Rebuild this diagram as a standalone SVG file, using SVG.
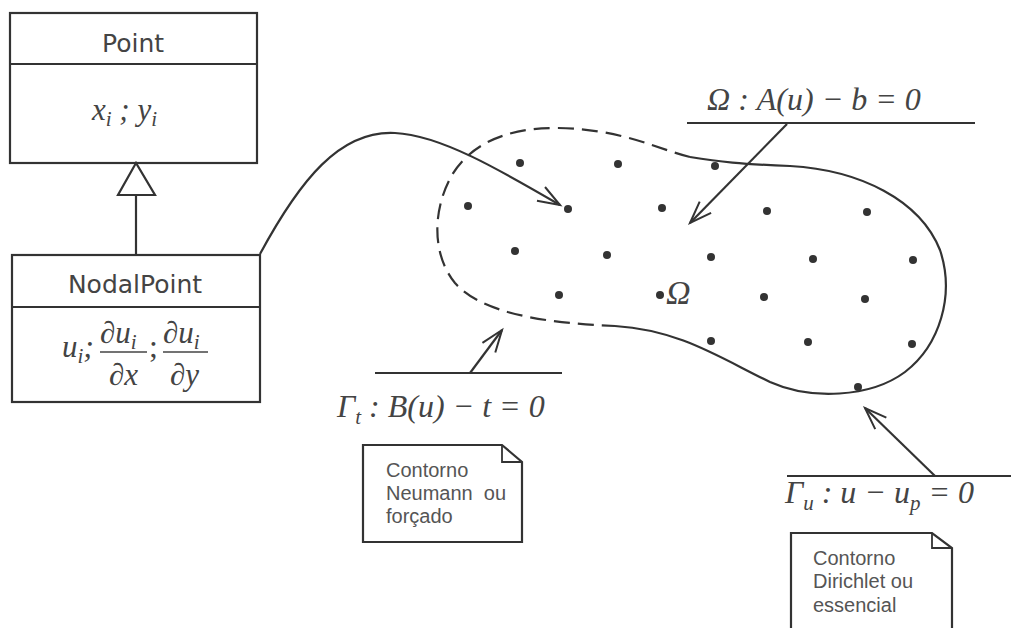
<svg xmlns="http://www.w3.org/2000/svg" width="1011" height="628" viewBox="0 0 1011 628">
<style>
.box{fill:#fff;stroke:#333;stroke-width:2.2}
.ln{fill:none;stroke:#333;stroke-width:2.2}
.thin{fill:none;stroke:#333;stroke-width:1.8}
.uml{font-family:"DejaVu Sans",sans-serif;font-size:25px;fill:#444}
.m{font-family:"Liberation Serif",serif;font-style:italic;font-size:32px;fill:#444}
.mu{font-family:"Liberation Serif",serif;font-size:32px;fill:#444}
.sub{font-size:21px}
.fm{font-family:"Liberation Serif",serif;font-style:italic;font-size:31px;fill:#444}
.note{font-family:"Liberation Sans",sans-serif;font-size:20px;fill:#555}
.dot{fill:#333}
</style>
<defs>
<marker id="open" markerUnits="userSpaceOnUse" markerWidth="26" markerHeight="20" refX="23" refY="10" orient="auto">
<path d="M1,2 L23,10 L1,18" fill="none" stroke="#333" stroke-width="2"/>
</marker>
</defs>
<rect width="1011" height="628" fill="#fff"/>

<g id="point">
<rect class="box" x="10" y="13" width="247" height="150"/>
<line class="ln" x1="10" y1="64" x2="257" y2="64"/>
<text class="uml" x="133" y="52" text-anchor="middle">Point</text>
<text class="fm" x="92" y="120">x<tspan class="sub" dy="6">i</tspan><tspan dy="-6"> ; y</tspan><tspan class="sub" dy="6">i</tspan></text>
</g>

<g id="nodalpoint">
<rect class="box" x="12" y="255" width="248" height="147"/>
<line class="ln" x1="12" y1="307" x2="260" y2="307"/>
<text class="uml" x="135" y="293" text-anchor="middle">NodalPoint</text>
<text class="fm" x="62" y="357">u<tspan class="sub" dy="6">i</tspan><tspan class="mu" dy="-6">;</tspan></text>
<text class="fm" x="100" y="343">∂u<tspan class="sub" dy="6">i</tspan></text>
<line x1="100" y1="352" x2="147" y2="352" stroke="#444" stroke-width="1.6"/>
<text class="fm" x="109" y="385">∂x</text>
<text class="mu" x="149" y="357">;</text>
<text class="fm" x="163" y="343">∂u<tspan class="sub" dy="6">i</tspan></text>
<line x1="163" y1="352" x2="208" y2="352" stroke="#444" stroke-width="1.6"/>
<text class="fm" x="170" y="385">∂y</text>
</g>

<g id="domain">
<path class="ln" d="M690,157 C660,150 620,128 555,128 C505,128 470,145 452,175 C432,210 432,255 455,283 C480,312 540,323 615,326" stroke-dasharray="16 8"/>
<path class="ln" d="M690,157 C720,162 740,164 790,166 C860,170 920,200 940,250 C955,295 940,345 905,372 C870,398 810,400 770,382 C720,358 680,330 615,326"/>
<g class="dot">
<circle cx="520" cy="163" r="4"/><circle cx="618" cy="164" r="4"/><circle cx="715" cy="166" r="4"/>
<circle cx="468" cy="206" r="4"/><circle cx="568" cy="209" r="4"/><circle cx="662" cy="208" r="4"/><circle cx="767" cy="211" r="4"/><circle cx="867" cy="212" r="4"/>
<circle cx="515" cy="251" r="4"/><circle cx="607" cy="255" r="4"/><circle cx="711" cy="257" r="4"/><circle cx="813" cy="259" r="4"/><circle cx="913" cy="260" r="4"/>
<circle cx="559" cy="295" r="4"/><circle cx="660" cy="295" r="4"/><circle cx="764" cy="297" r="4"/><circle cx="865" cy="299" r="4"/>
<circle cx="711" cy="341" r="4"/><circle cx="808" cy="342" r="4"/><circle cx="912" cy="344" r="4"/>
<circle cx="858" cy="387" r="4"/>
</g>
<text class="m" x="666" y="304" style="font-size:34px">Ω</text>
</g>

<g id="label-omega">
<line class="ln" x1="687" y1="123" x2="975" y2="123"/>
<text class="m" x="707" y="110">Ω<tspan class="mu"> : </tspan>A<tspan class="mu">(</tspan>u<tspan class="mu">) − </tspan>b<tspan class="mu"> = </tspan>0</text>
</g>

<g id="label-gamma-t">
<line class="ln" x1="375" y1="373" x2="562" y2="373"/>
<text class="m" x="337" y="417">Γ<tspan class="sub" dy="7">t</tspan><tspan class="mu" dy="-7">  : </tspan>B<tspan class="mu">(</tspan>u<tspan class="mu">) − </tspan>t<tspan class="mu"> = </tspan>0</text>
</g>

<g id="label-gamma-u">
<line class="ln" x1="787" y1="476" x2="1011" y2="476"/>
<text class="m" x="785" y="503">Γ<tspan class="sub" dy="7">u</tspan><tspan class="mu" dy="-7"> : </tspan>u<tspan class="mu"> − </tspan>u<tspan class="sub" dy="7">p</tspan><tspan class="mu" dy="-7"> = </tspan>0</text>
</g>

<g id="note-neumann">
<path class="box" d="M363,445 L502,445 L522,462 L522,542 L363,542 Z"/>
<path class="thin" d="M502,445 L502,462 L522,462"/>
<text class="note" x="386" y="477">Contorno</text>
<text class="note" x="386" y="500" xml:space="preserve">Neumann  ou</text>
<text class="note" x="386" y="523">forçado</text>
</g>

<g id="note-dirichlet">
<path class="box" d="M791,533 L932,533 L952,548 L952,632 L791,632 Z"/>
<path class="thin" d="M932,533 L932,548 L952,548"/>
<text class="note" x="813" y="565">Contorno</text>
<text class="note" x="813" y="588">Dirichlet ou</text>
<text class="note" x="813" y="612">essencial</text>
</g>

<g id="connectors">
<line class="ln" x1="136" y1="195" x2="136" y2="255"/>
<polygon points="136,163 118,195 155,195" fill="#fff" stroke="#333" stroke-width="2.2"/>
<path class="ln" d="M260,254 C300,180 340,130 395,133 C440,135 500,170 560,205" marker-end="url(#open)"/>
<line class="ln" x1="787" y1="124" x2="690" y2="223" marker-end="url(#open)"/>
<line class="ln" x1="470" y1="373" x2="502" y2="330" marker-end="url(#open)"/>
<line class="ln" x1="935" y1="476" x2="865" y2="408" marker-end="url(#open)"/>
</g>
</svg>
